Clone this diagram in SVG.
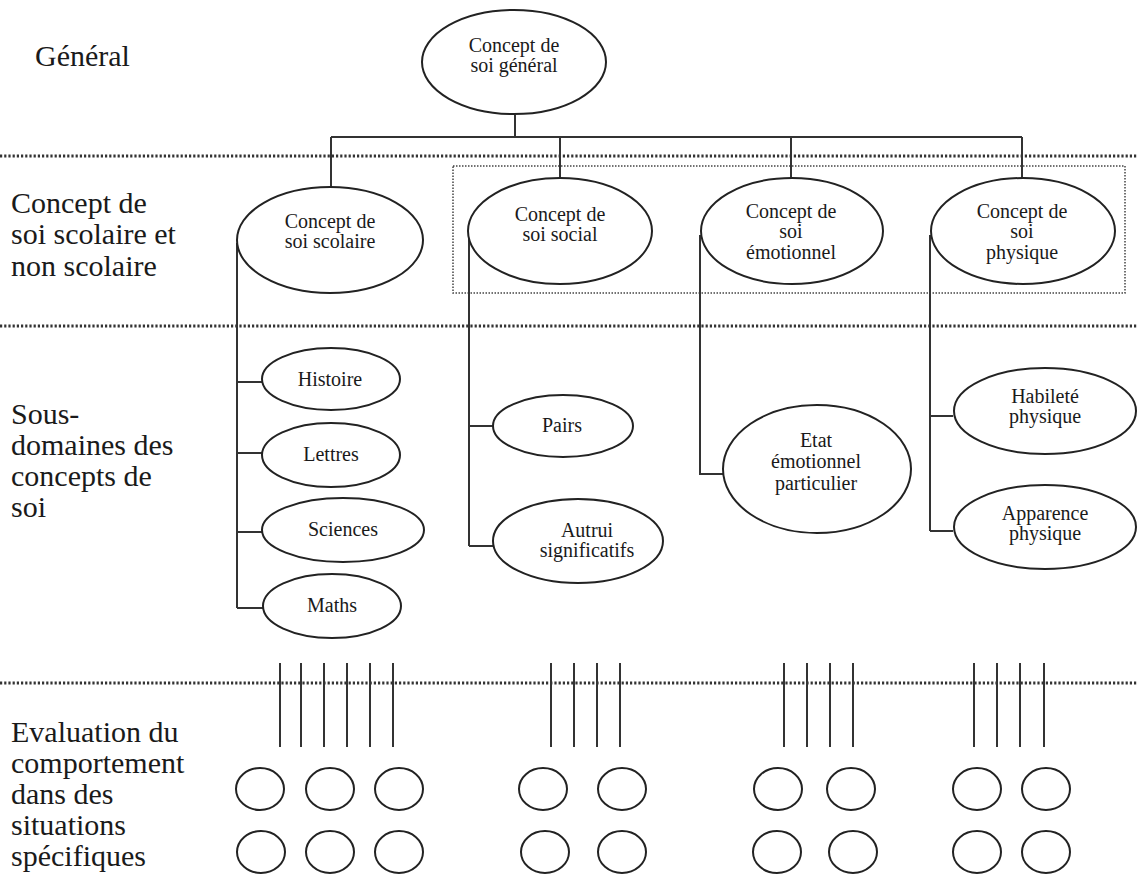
<svg xmlns="http://www.w3.org/2000/svg" width="1138" height="876" viewBox="0 0 1138 876">
<style>
.bg{fill:#fff}
.lbl{font-family:'Liberation Serif','DejaVu Serif',serif;font-size:30px;fill:#1a1a1a}
.nt{font-family:'Liberation Serif','DejaVu Serif',serif;font-size:20px;fill:#1a1a1a;text-anchor:middle}
.el{fill:#fff;stroke:#222;stroke-width:2}
.ln{stroke:#333;stroke-width:2;fill:none}
.sep{stroke:#333;stroke-width:3;stroke-dasharray:2.2 2;fill:none}
.box{stroke:#444;stroke-width:1.5;stroke-dasharray:1.5 1.5;fill:none}
</style>
<rect class="bg" x="0" y="0" width="1138" height="876"/>

<g id="separators">
<line class="sep" x1="0" y1="156" x2="1138" y2="156"/>
<line class="sep" x1="0" y1="326" x2="1138" y2="326"/>
<line class="sep" x1="0" y1="683" x2="1138" y2="683"/>
<rect class="box" x="453" y="166" width="672" height="127"/>
</g>

<g id="level-labels">
<text class="lbl" x="35" y="66">Général</text>
<text class="lbl" x="11" y="213">Concept de</text>
<text class="lbl" x="11" y="244">soi scolaire et</text>
<text class="lbl" x="11" y="276">non scolaire</text>
<text class="lbl" x="11" y="424">Sous-</text>
<text class="lbl" x="11" y="455">domaines des</text>
<text class="lbl" x="11" y="486">concepts de</text>
<text class="lbl" x="11" y="517">soi</text>
<text class="lbl" x="11" y="742">Evaluation du</text>
<text class="lbl" x="11" y="773">comportement</text>
<text class="lbl" x="11" y="804">dans des</text>
<text class="lbl" x="11" y="835">situations</text>
<text class="lbl" x="11" y="866">spécifiques</text>
</g>

<g id="connectors">
<line class="ln" x1="515" y1="115" x2="515" y2="137"/>
<line class="ln" x1="331" y1="137" x2="1022" y2="137"/>
<line class="ln" x1="331" y1="137" x2="331" y2="187"/>
<line class="ln" x1="560" y1="137" x2="560" y2="178"/>
<line class="ln" x1="791" y1="137" x2="791" y2="178"/>
<line class="ln" x1="1022" y1="137" x2="1022" y2="178"/>
<path class="ln" d="M237 243 V608 M237 382 H262 M237 453 H262 M237 532 H262 M237 608 H263"/>
<path class="ln" d="M469 235 V546 M469 426 H493 M469 546 H493"/>
<path class="ln" d="M700 235 V474 H723"/>
<path class="ln" d="M930 235 V531 M930 416 H953 M930 531 H953"/>
<path class="ln" d="M280 663 V747 M301 663 V747 M324 663 V747 M347 663 V747 M370 663 V747 M393 663 V747"/>
<path class="ln" d="M551 663 V747 M574 663 V747 M597 663 V747 M620 663 V747"/>
<path class="ln" d="M784 663 V747 M807 663 V747 M830 663 V747 M853 663 V747"/>
<path class="ln" d="M974 663 V747 M997 663 V747 M1020 663 V747 M1044 663 V747"/>
</g>

<g id="node-general">
<ellipse class="el" cx="514" cy="62" rx="92" ry="52"/>
<text class="nt" x="514" y="52">Concept de</text>
<text class="nt" x="514" y="72">soi général</text>
</g>
<g id="node-scolaire">
<ellipse class="el" cx="330" cy="240" rx="93" ry="53"/>
<text class="nt" x="330" y="228">Concept de</text>
<text class="nt" x="330" y="248">soi scolaire</text>
</g>
<g id="node-social">
<ellipse class="el" cx="560" cy="231" rx="92" ry="53"/>
<text class="nt" x="560" y="221">Concept de</text>
<text class="nt" x="560" y="241">soi social</text>
</g>
<g id="node-emotionnel">
<ellipse class="el" cx="792" cy="231" rx="91" ry="53"/>
<text class="nt" x="791" y="218">Concept de</text>
<text class="nt" x="791" y="238">soi</text>
<text class="nt" x="791" y="259">émotionnel</text>
</g>
<g id="node-physique">
<ellipse class="el" cx="1023" cy="231" rx="92" ry="53"/>
<text class="nt" x="1022" y="218">Concept de</text>
<text class="nt" x="1022" y="238">soi</text>
<text class="nt" x="1022" y="259">physique</text>
</g>

<g id="node-histoire">
<ellipse class="el" cx="331" cy="379" rx="69" ry="31"/>
<text class="nt" x="330" y="386">Histoire</text>
</g>
<g id="node-lettres">
<ellipse class="el" cx="331" cy="455" rx="69" ry="32"/>
<text class="nt" x="331" y="461">Lettres</text>
</g>
<g id="node-sciences">
<ellipse class="el" cx="343" cy="530" rx="81" ry="32"/>
<text class="nt" x="343" y="536">Sciences</text>
</g>
<g id="node-maths">
<ellipse class="el" cx="332" cy="606" rx="69" ry="32"/>
<text class="nt" x="332" y="612">Maths</text>
</g>
<g id="node-pairs">
<ellipse class="el" cx="563" cy="426" rx="70" ry="31"/>
<text class="nt" x="562" y="432">Pairs</text>
</g>
<g id="node-autrui">
<ellipse class="el" cx="578" cy="541" rx="85" ry="42"/>
<text class="nt" x="587" y="537">Autrui</text>
<text class="nt" x="587" y="557">significatifs</text>
</g>
<g id="node-etat">
<ellipse class="el" cx="817" cy="469" rx="94" ry="64"/>
<text class="nt" x="816" y="447">Etat</text>
<text class="nt" x="816" y="468">émotionnel</text>
<text class="nt" x="816" y="490">particulier</text>
</g>
<g id="node-habilete">
<ellipse class="el" cx="1045" cy="411" rx="91" ry="43"/>
<text class="nt" x="1045" y="403">Habileté</text>
<text class="nt" x="1045" y="423">physique</text>
</g>
<g id="node-apparence">
<ellipse class="el" cx="1045" cy="527" rx="91" ry="42"/>
<text class="nt" x="1045" y="520">Apparence</text>
<text class="nt" x="1045" y="540">physique</text>
</g>

<g id="situations">
<ellipse class="el" cx="260" cy="789" rx="24" ry="21"/>
<ellipse class="el" cx="330" cy="789" rx="24" ry="21"/>
<ellipse class="el" cx="399" cy="789" rx="24" ry="21"/>
<ellipse class="el" cx="261" cy="852" rx="24" ry="21"/>
<ellipse class="el" cx="330" cy="852" rx="24" ry="21"/>
<ellipse class="el" cx="399" cy="852" rx="24" ry="21"/>
<ellipse class="el" cx="543" cy="789" rx="24" ry="21"/>
<ellipse class="el" cx="622" cy="789" rx="24" ry="21"/>
<ellipse class="el" cx="545" cy="852" rx="24" ry="21"/>
<ellipse class="el" cx="622" cy="852" rx="24" ry="21"/>
<ellipse class="el" cx="778" cy="789" rx="24" ry="21"/>
<ellipse class="el" cx="851" cy="789" rx="24" ry="21"/>
<ellipse class="el" cx="777" cy="852" rx="24" ry="21"/>
<ellipse class="el" cx="853" cy="852" rx="24" ry="21"/>
<ellipse class="el" cx="977" cy="789" rx="24" ry="21"/>
<ellipse class="el" cx="1046" cy="789" rx="24" ry="21"/>
<ellipse class="el" cx="977" cy="852" rx="24" ry="21"/>
<ellipse class="el" cx="1046" cy="852" rx="24" ry="21"/>
</g>
</svg>
